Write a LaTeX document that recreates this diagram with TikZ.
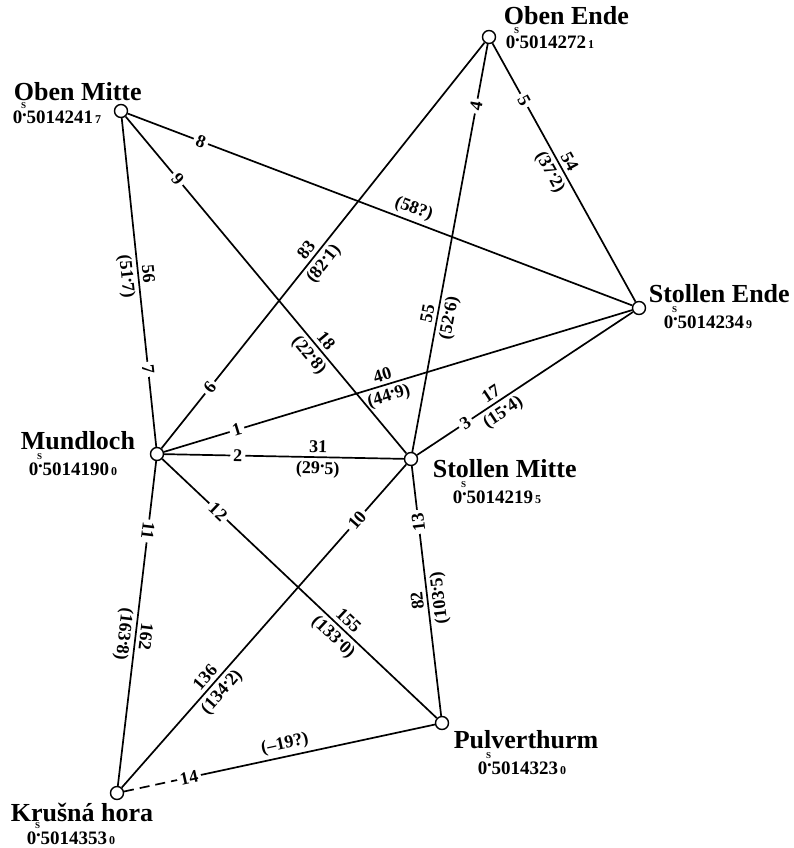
\documentclass[tikz,border=0pt]{standalone}
\usepackage{fontspec}
\setmainfont{Liberation Serif}
\usetikzlibrary{calc}
\newcommand\dd{\raisebox{0.38em}{.}}
\newcommand\crdtext[2]{0\makebox[0.22em][c]{\raisebox{0.42em}{.}}\llap{\makebox[0.3em][c]{\raisebox{0.8em}{\fontsize{9}{9}\selectfont S}}}#1\kern2pt{\fontsize{12}{12}\selectfont #2}}
\begin{document}
\begin{tikzpicture}[x=1pt,y=-1pt,line width=1.7pt,
 stn/.style={circle,draw,fill=white,minimum size=13pt,inner sep=0pt,line width=1.4pt},
 stname/.style={font=\fontsize{26}{26}\selectfont\bfseries,anchor=base west,inner sep=0pt},
 crd/.style={font=\fontsize{19}{19}\selectfont\bfseries,anchor=base west,inner sep=0pt},
 lnum/.style={font=\fontsize{18}{18}\selectfont\bfseries,fill=white,inner sep=3pt,sloped,allow upside down},
 dist/.style={font=\fontsize{18}{18}\selectfont\bfseries,inner sep=3.5pt,sloped,allow upside down}]
\useasboundingbox (0,0) rectangle (794,848);
% stations
\node[stn] (OM) at (121,111) {};
\node[stn] (OE) at (489,37) {};
\node[stn] (SE) at (639,308) {};
\node[stn] (M) at (157,454) {};
\node[stn] (SM) at (411,459) {};
\node[stn] (P) at (442,723) {};
\node[stn] (K) at (117,793) {};
% edges
\draw (OM) -- node[lnum,pos=0.145]{8} node[dist,above,pos=0.558]{(58?)} (SE);
\draw (OM) -- node[lnum,pos=0.186]{9} node[dist,above,pos=0.686]{18} node[dist,below,pos=0.686]{(22\dd8)} (SM);
\draw (OM) -- node[lnum,pos=0.764]{7} node[dist,above,pos=0.478]{56} node[dist,below,pos=0.478]{(51\dd7)} (M);
\draw (M) -- node[lnum,pos=0.15]{6} node[dist,above,pos=0.473]{83} node[dist,below,pos=0.473]{(82\dd1)} (OE);
\draw (SM) -- node[lnum,pos=0.848]{4} node[dist,above,pos=0.334]{55} node[dist,below,pos=0.334]{(52\dd6)} (OE);
\draw (OE) -- node[lnum,pos=0.221]{5} node[dist,above,pos=0.476]{54} node[dist,below,pos=0.476]{(37\dd2)} (SE);
\draw (M) -- node[lnum,pos=0.156]{1} node[dist,above,pos=0.473]{40} node[dist,below,pos=0.473]{(44\dd9)} (SE);
\draw (M) -- node[lnum,pos=0.307]{2} node[dist,above,pos=0.642]{31} node[dist,below,pos=0.642]{(29\dd5)} (SM);
\draw (SM) -- node[lnum,pos=0.224]{3} node[dist,above,pos=0.368]{17} node[dist,below,pos=0.368]{(15\dd4)} (SE);
\draw (M) -- node[lnum,pos=0.215]{11} node[dist,above,pos=0.537]{162} node[dist,below,pos=0.537]{(163\dd8)} (K);
\draw (M) -- node[lnum,pos=0.2035]{12} node[dist,above,pos=0.653]{155} node[dist,below,pos=0.653]{(133\dd0)} (P);
\draw (K) -- node[lnum,pos=0.827]{10} node[dist,above,pos=0.32]{136} node[dist,below,pos=0.32]{(134\dd2)} (SM);
\draw (P) -- node[lnum,pos=0.777]{13} node[dist,above,pos=0.466]{82} node[dist,below,pos=0.466]{(103\dd5)} (SM);
\path (K) -- (P) coordinate[pos=0.209] (k14);
\draw[dash pattern=on 10pt off 6pt] (K) -- (k14);
\draw (k14) -- (P);
\path (K) -- node[lnum,pos=0.209]{14} node[dist,above,pos=0.526]{(--19?)} (P);
% station labels
\node[stname] (OMn) at (13,101) {Oben Mitte};
\node[crd] (OMc) at (12,124) {\crdtext{5014241}{7}};
\node[stname] (OEn) at (503,25) {Oben Ende};
\node[crd] (OEc) at (505,49) {\crdtext{5014272}{1}};
\node[stname] (SEn) at (648,302) {Stollen Ende};
\node[crd] (SEc) at (663,328) {\crdtext{5014234}{9}};
\node[stname] (Mn) at (20,449) {Mundloch};
\node[crd] (Mc) at (28,475) {\crdtext{5014190}{0}};
\node[stname] (SMn) at (432,477) {Stollen Mitte};
\node[crd] (SMc) at (452,503) {\crdtext{5014219}{5}};
\node[stname] (Pn) at (453,748) {Pulverthurm};
\node[crd] (Pc) at (477,774) {\crdtext{5014323}{0}};
\node[stname] (Kn) at (10,821) {Krušná hora};
\node[crd] (Kc) at (26,844) {\crdtext{5014353}{0}};
\end{tikzpicture}
\end{document}
